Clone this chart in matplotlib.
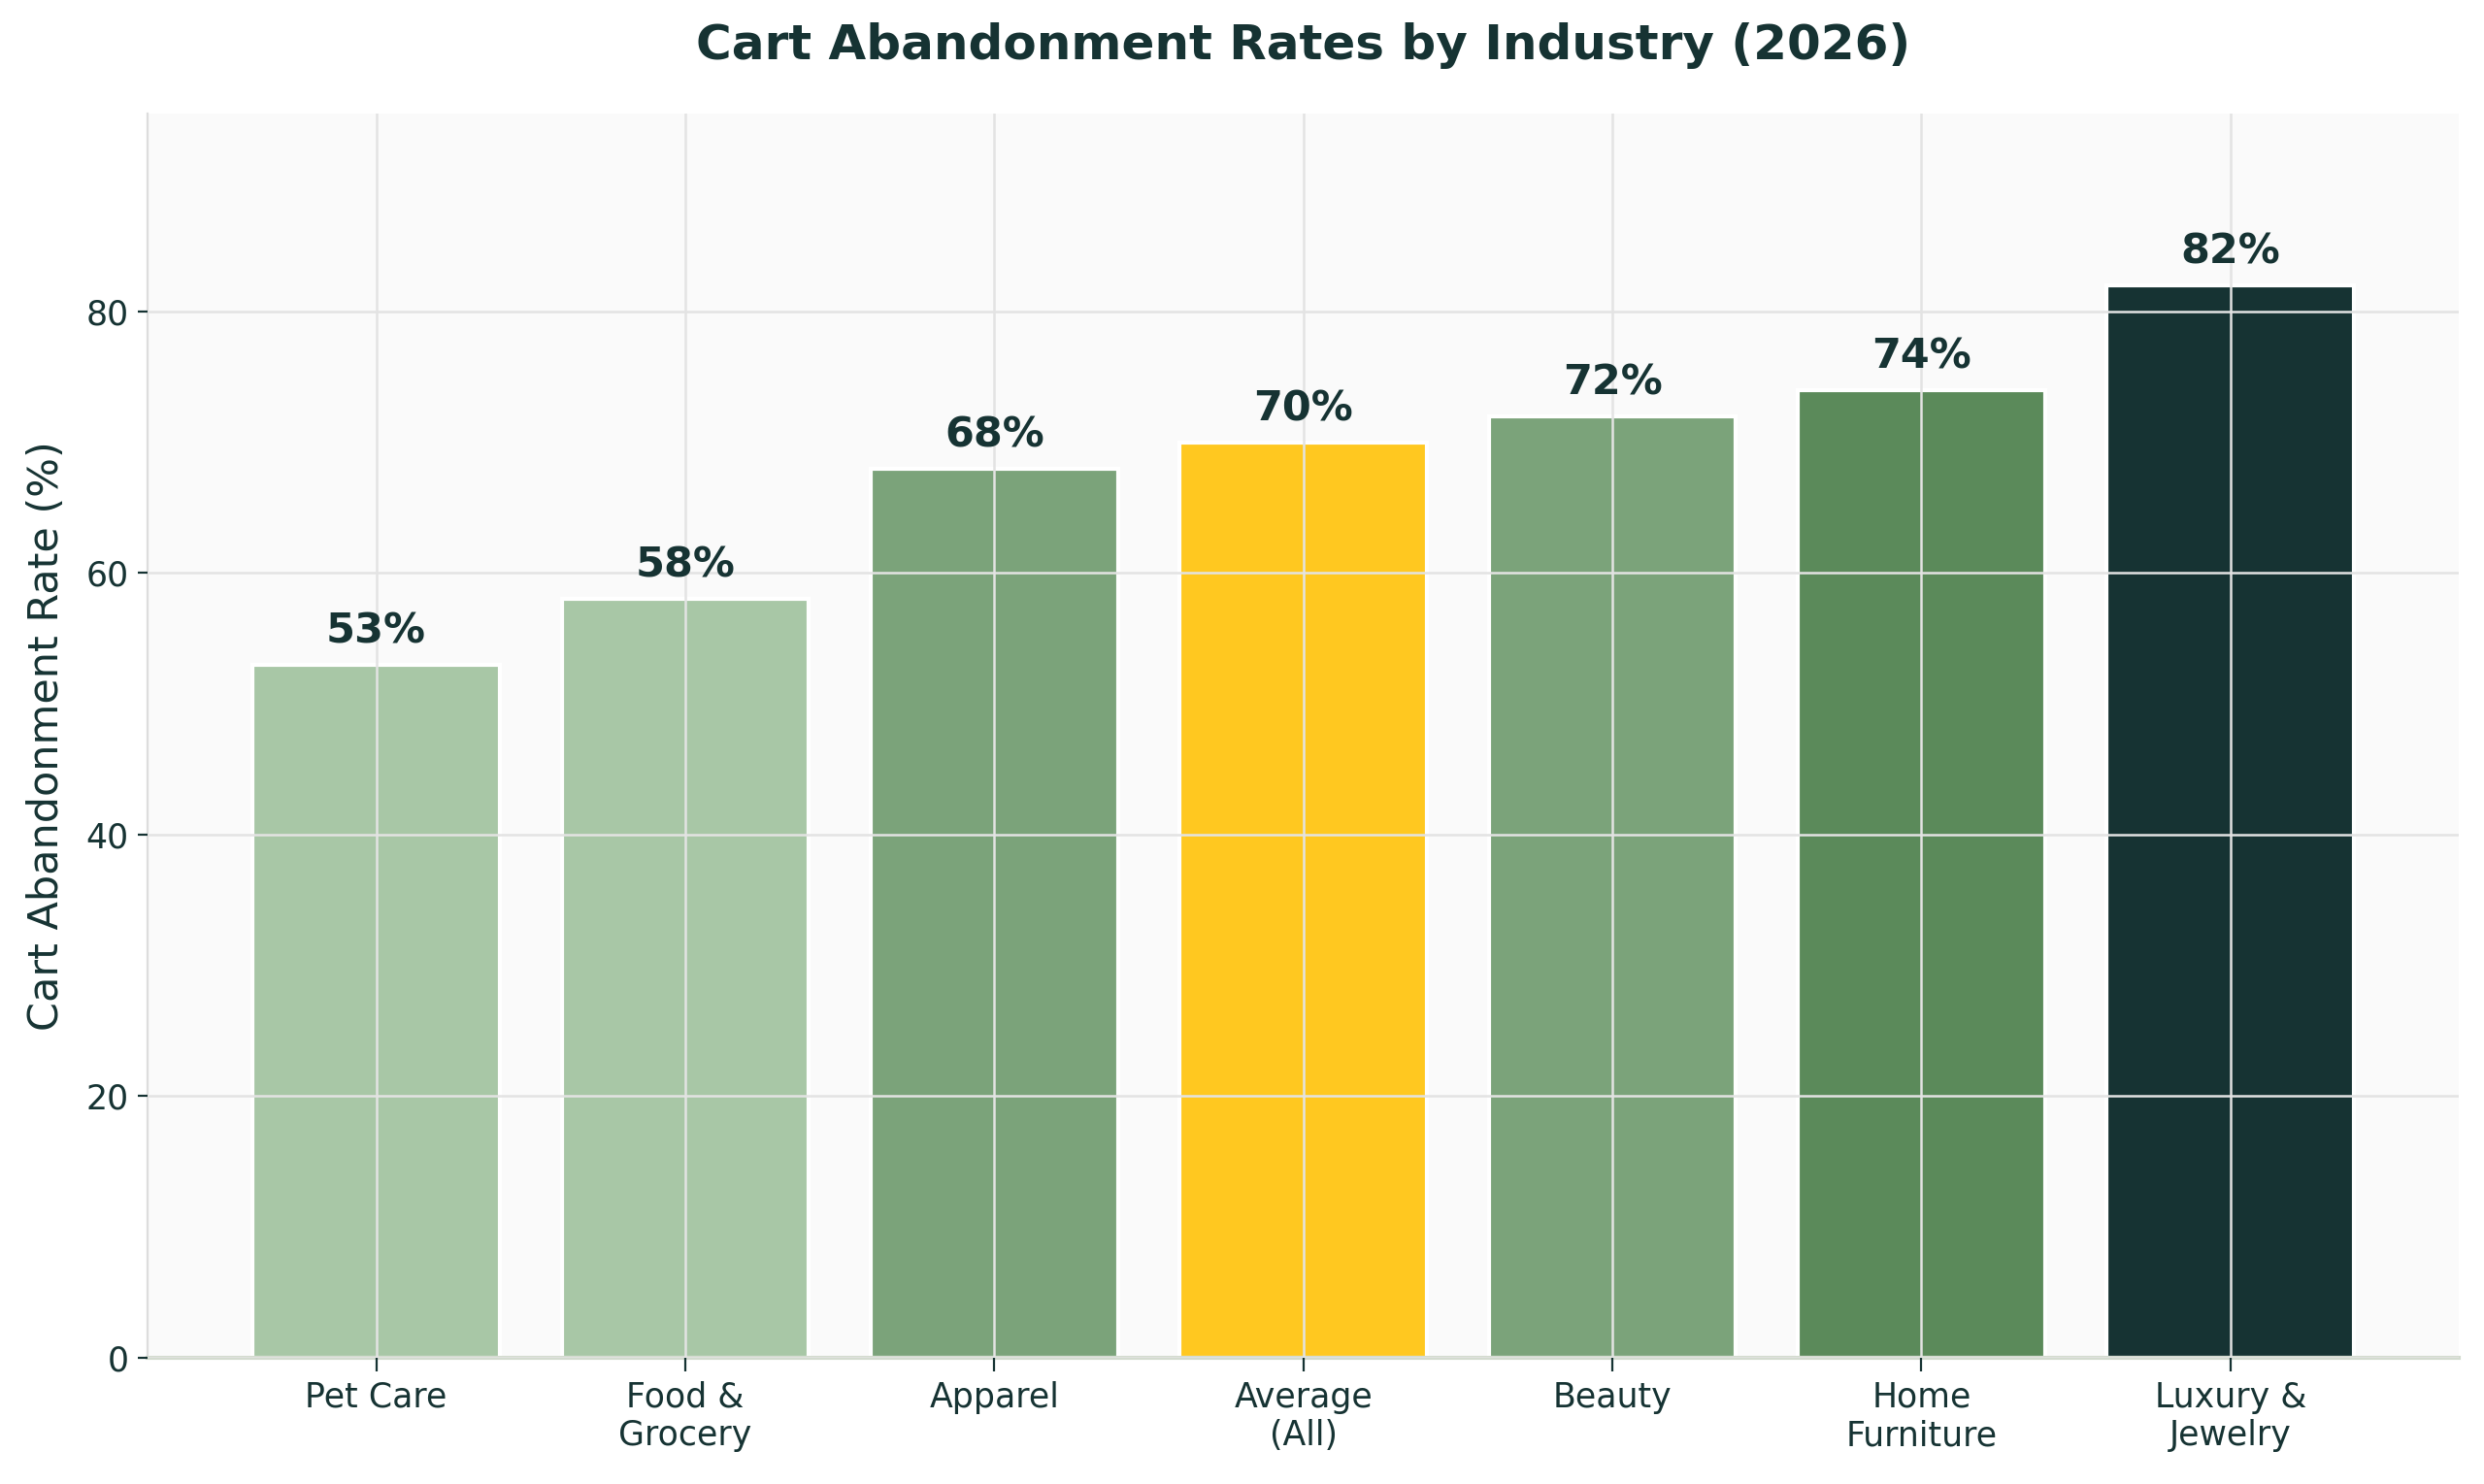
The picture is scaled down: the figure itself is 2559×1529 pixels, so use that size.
import matplotlib.pyplot as plt

# Dane
branze = ['Pet Care', 'Food &\nGrocery', 'Apparel', 'Average\n(All)', 'Beauty', 'Home\nFurniture', 'Luxury &\nJewelry']
wskaznik = [53, 58, 68, 70, 72, 74, 82]
kolory = ['#A8C7A6', '#A8C7A6', '#7BA37A', '#FFC820', '#7BA37A', '#5B8A5A', '#163333']

ciemny = '#163333'

fig, ax = plt.subplots(figsize=(12.795, 7.645), dpi=200)
fig.subplots_adjust(left=0.0594, right=0.99, top=0.9235, bottom=0.085)
ax.set_facecolor('#FAFAFA')

slupki = ax.bar(branze, wskaznik, width=0.8, color=kolory, edgecolor='white', linewidth=1.5, zorder=2)

# Etykiety nad słupkami
for s, w in zip(slupki, wskaznik):
    ax.text(s.get_x() + s.get_width() / 2, w + 1.0, f'{w}%', ha='center', va='bottom',
            fontsize=15.5, fontweight='bold', color=ciemny)

ax.set_ylim(0, max(wskaznik) * 1.16)
ax.set_ylabel('Cart Abandonment Rate (%)', fontsize=15.5, color=ciemny, labelpad=7)
ax.set_title('Cart Abandonment Rates by Industry (2026)', fontsize=18, fontweight='bold',
             color=ciemny, pad=20)

ax.grid(True, color='#E3E3E3', linewidth=0.9, zorder=3)
ax.set_axisbelow(False)
ax.tick_params(axis='both', colors=ciemny, labelsize=12.5)
ax.tick_params(axis='x', length=5)

ax.spines['top'].set_visible(False)
ax.spines['right'].set_visible(False)
ax.spines['left'].set_color('#DDDDDD')
ax.spines['bottom'].set_color('#D3DBCF')
ax.spines['bottom'].set_linewidth(1.5)

plt.savefig('out.png', dpi=200)
